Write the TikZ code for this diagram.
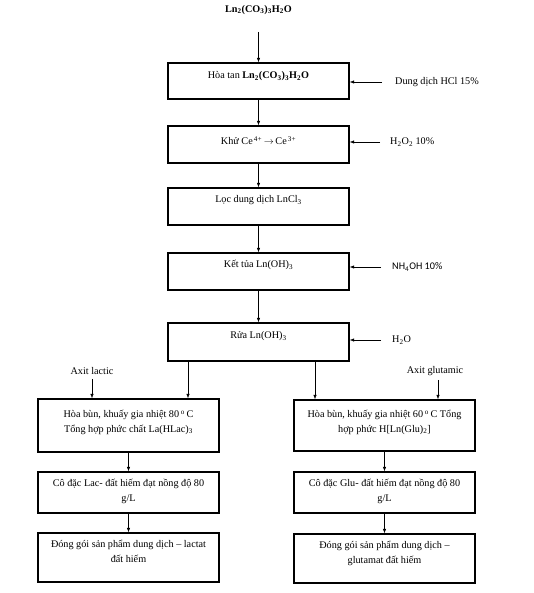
\documentclass[tikz,border=0pt]{standalone}
\usepackage{fontspec}
\setmainfont{Liberation Serif}
\newfontfamily\calib{Carlito}
\usetikzlibrary{arrows.meta}
\begin{document}
\begin{tikzpicture}[x=1pt,y=-1pt,
  font=\fontsize{10.2}{14.5}\selectfont,
  box/.style={draw,line width=1.4pt,rectangle,minimum width=181pt,inner sep=0pt},
  txt/.style={inner sep=0pt,align=center,anchor=north},
  arr/.style={line width=0.6pt,-{Latex[length=4.5pt,width=3.5pt]}},
  lbl/.style={inner sep=0pt,anchor=west}]
\useasboundingbox (0,0) rectangle (533,593);
\fill[white] (0,0) rectangle (533,593);
% top label
\node[inner sep=0pt] (top) at (258.5,10) {\textbf{Ln\textsubscript{2}(CO\textsubscript{3})\textsubscript{3}H\textsubscript{2}O}};
% main column
\node[box,minimum height=36pt] (b1) at (258.5,81) {};
\node[box,minimum height=37pt] (b2) at (258.5,144.5) {};
\node[box,minimum height=37pt] (b3) at (258.5,206.5) {};
\node[box,minimum height=37pt] (b4) at (258.5,271.5) {};
\node[box,minimum height=38pt] (b5) at (258.5,342) {};
\node[txt] (t1) at ([yshift=-9pt]b1.north) {Hòa tan \textbf{Ln\textsubscript{2}(CO\textsubscript{3})\textsubscript{3}H\textsubscript{2}O}};
\node[txt] (t2) at ([yshift=-11pt]b2.north) {Khử Ce\textsuperscript{\,4+}\,$\rightarrow$\,Ce\textsuperscript{\,3+}};
\node[txt] (t3) at ([yshift=-8pt]b3.north) {Lọc dung dịch LnCl\textsubscript{3}};
\node[txt] (t4) at ([yshift=-8pt]b4.north) {Kết tủa Ln(OH)\textsubscript{3}};
\node[txt] (t5) at ([yshift=-9pt]b5.north) {Rửa Ln(OH)\textsubscript{3}};
% side inputs
\node[lbl] (s1) at (395,82) {Dung dịch HCl 15\%};
\node[lbl] (s2) at (390,142) {H\textsubscript{2}O\textsubscript{2} 10\%};
\node[lbl] (s4) at (392,267) {\calib NH\textsubscript{4}OH 10\%};
\node[lbl] (s5) at (392,340) {H\textsubscript{2}O};
\draw[arr] ([xshift=-13pt]s1.west) -- (s1.west -| b1.east);
\draw[arr] ([xshift=-10pt]s2.west) -- (s2.west -| b2.east);
\draw[arr] ([xshift=-11pt]s4.west) -- (s4.west -| b4.east);
\draw[arr] ([xshift=-11pt]s5.west) -- (s5.west -| b5.east);
% main arrows
\draw[arr] ([yshift=-17pt]top.south) -- (b1.north);
\draw[arr] (b1.south) -- (b2.north);
\draw[arr] (b2.south) -- (b3.north);
\draw[arr] (b3.south) -- (b4.north);
\draw[arr] (b4.south) -- (b5.north);
% branches
\node[box,minimum height=53pt] (l1) at (128.5,425.5) {};
\node[box,minimum height=41pt] (l2) at (128.5,492.5) {};
\node[box,minimum height=49pt] (l3) at (128.5,557.5) {};
\node[box,minimum height=51pt] (r1) at (384.5,425.5) {};
\node[box,minimum height=41pt] (r2) at (384.5,492.5) {};
\node[box,minimum height=49pt] (r3) at (384.5,558.5) {};
\node[txt] (tl1) at ([yshift=-12pt]l1.north) {Hòa bùn, khuấy gia nhiệt 80\,\textsuperscript{o}\,C\\Tổng hợp phức chất La(HLac)\textsubscript{3}};
\node[txt] (tl2) at ([yshift=-8pt]l2.north) {Cô đặc Lac- đất hiếm đạt nồng độ 80\\g/L};
\node[txt] (tl3) at ([yshift=-8pt]l3.north) {Đóng gói sản phẩm dung dịch – lactat\\đất hiếm};
\node[txt] (tr1) at ([yshift=-11pt]r1.north) {Hòa bùn, khuấy gia nhiệt 60\,\textsuperscript{o}\,C Tổng\\hợp phức H[Ln(Glu)\textsubscript{2}]};
\node[txt] (tr2) at ([yshift=-8pt]r2.north) {Cô đặc Glu- đất hiếm đạt nồng độ 80\\g/L};
\node[txt] (tr3) at ([yshift=-8pt]r3.north) {Đóng gói sản phẩm dung dịch –\\glutamat đất hiếm};
\node[inner sep=0pt] (al) at (92,371) {Axit lactic};
\node[inner sep=0pt] (ag) at (435,371) {Axit glutamic};
\draw[arr] ([xshift=-70.5pt]b5.south) -- ([xshift=-70.5pt]b5.south |- l1.north);
\draw[arr] ([xshift=56.5pt]b5.south) -- ([xshift=56.5pt]b5.south |- r1.north);
\draw[arr] ([yshift=-4pt]al.south) -- (al.south |- l1.north);
\draw[arr] ([xshift=3pt,yshift=-4pt]ag.south) -- ([xshift=3pt]ag.south |- r1.north);
\draw[arr] (l1.south) -- (l2.north);
\draw[arr] (l2.south) -- (l3.north);
\draw[arr] (r1.south) -- (r2.north);
\draw[arr] (r2.south) -- (r3.north);
\end{tikzpicture}
\end{document}
